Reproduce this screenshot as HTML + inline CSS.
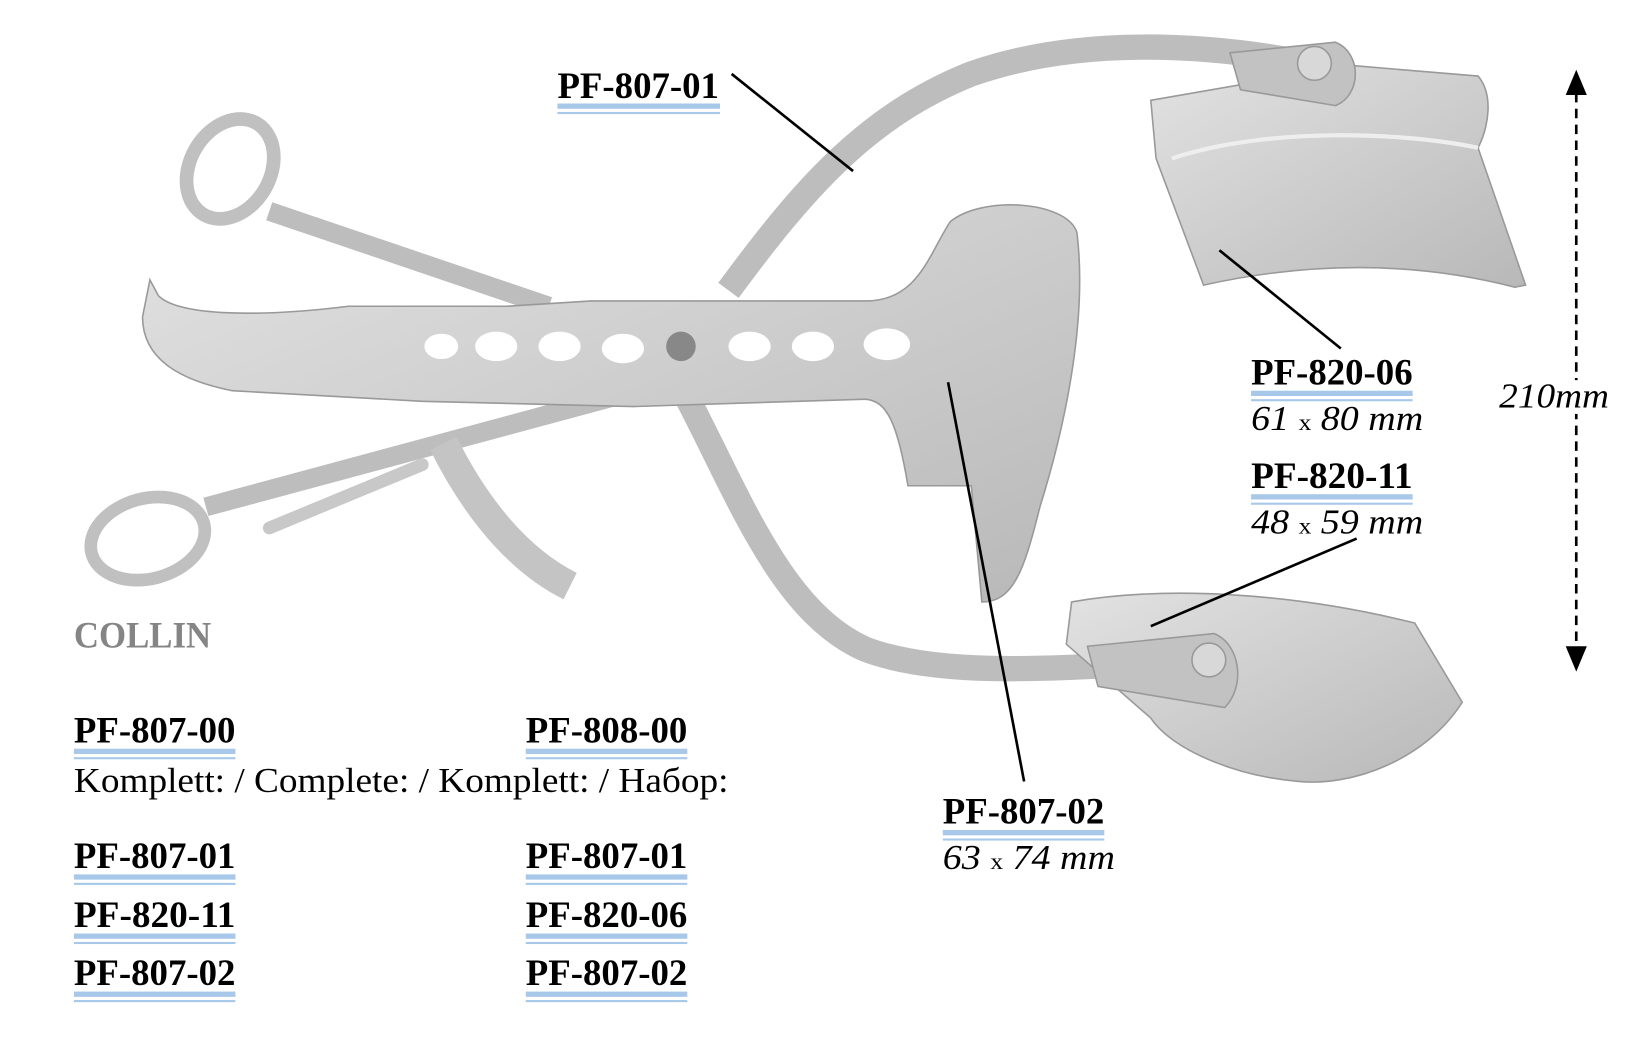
<!DOCTYPE html>
<html><head><meta charset="utf-8"><style>
html,body{margin:0;padding:0;background:#fff;width:1647px;height:1056px;overflow:hidden}
svg{display:block}
.b{font-family:"Liberation Serif",serif;font-weight:bold;font-size:35px;fill:#000}
.i{font-family:"Liberation Serif",serif;font-style:italic;font-size:33px;fill:#000}
.n{font-family:"Liberation Serif",serif;font-size:33px;fill:#000}
.u1{fill:#a8c8ea}
</style></head><body>
<svg width="1647" height="1056" viewBox="0 0 1560 1000" preserveAspectRatio="none">
<defs>
<linearGradient id="g" x1="0" y1="0" x2="1" y2="1"><stop offset="0" stop-color="#e2e2e2"/><stop offset="1" stop-color="#b8b8b8"/></linearGradient>
</defs>
<g stroke="#999" stroke-width="1.5">
<path d="M690,275 C760,180 820,110 920,70 C1020,35 1140,40 1250,62" fill="none" stroke="#bdbdbd" stroke-width="24"/>
<path d="M1090,95 L1280,62 L1400,72 C1415,90 1410,120 1400,140 L1445,270 L1435,272 C1330,245 1230,250 1140,270 L1095,150 Z" fill="url(#g)"/>
<path d="M1110,150 C1200,120 1330,125 1400,140" fill="none" stroke="#eee" stroke-width="4"/>
<path d="M1165,50 L1265,40 C1290,50 1290,90 1265,100 L1175,85 Z" fill="#c2c2c2"/>
<circle cx="1245" cy="60" r="16" fill="#d8d8d8"/>
<path d="M650,375 C700,470 740,580 820,615 C900,645 1030,630 1150,625" fill="none" stroke="#bdbdbd" stroke-width="24"/>
<path d="M1015,570 C1100,555 1220,560 1340,590 L1385,665 C1350,720 1280,745 1230,740 C1170,735 1110,710 1090,680 L1010,610 Z" fill="url(#g)"/>
<path d="M1030,612 L1150,600 C1175,610 1180,650 1160,670 L1040,650 Z" fill="#c2c2c2"/>
<circle cx="1145" cy="625" r="16" fill="#d8d8d8"/>
<ellipse cx="218" cy="160" rx="38" ry="50" transform="rotate(30 218 160)" fill="none" stroke="#c0c0c0" stroke-width="13"/>
<path d="M255,200 L520,290" stroke="#bdbdbd" stroke-width="18" fill="none"/>
<ellipse cx="140" cy="510" rx="55" ry="38" transform="rotate(-15 140 510)" fill="none" stroke="#c0c0c0" stroke-width="12"/>
<path d="M195,480 L640,360" stroke="#bdbdbd" stroke-width="18" fill="none"/>
<path d="M255,500 L400,440" stroke="#c8c8c8" stroke-width="12" stroke-linecap="round" fill="none"/>
<path d="M420,420 C450,480 490,530 540,555" stroke="#c4c4c4" stroke-width="28" fill="none"/>
<path d="M142,265 L150,280 C170,300 250,300 330,290 L480,290 L560,285 L820,285 C870,285 880,240 900,210 C930,185 1010,190 1020,220 C1030,300 1010,400 985,480 C970,540 960,570 930,570 L920,460 L860,460 C850,400 840,380 820,378 L600,385 L400,380 L220,370 C170,360 135,340 135,300 Z" fill="url(#g)"/>
<g fill="#fff" stroke="none">
<ellipse cx="418" cy="328" rx="16" ry="12"/><ellipse cx="470" cy="328" rx="20" ry="14"/><ellipse cx="530" cy="328" rx="20" ry="14"/><ellipse cx="590" cy="330" rx="20" ry="14"/><ellipse cx="645" cy="328" rx="14" ry="14" fill="#888"/><ellipse cx="710" cy="328" rx="20" ry="14"/><ellipse cx="770" cy="328" rx="20" ry="14"/><ellipse cx="840" cy="326" rx="22" ry="15"/>
</g>
</g>
<g stroke="#000" stroke-width="2.5">
<line x1="693" y1="70" x2="808" y2="162"/>
<line x1="1155" y1="237" x2="1270" y2="330"/>
<line x1="1285" y1="510" x2="1090" y2="593"/>
<line x1="898" y1="362" x2="970" y2="740"/>
<line x1="1493" y1="88" x2="1493" y2="615" stroke-dasharray="9,6"/>
</g>
<polygon points="1493,66 1483,90 1503,90" fill="#000"/>
<polygon points="1493,636 1483,612 1503,612" fill="#000"/>
<rect x="1415" y="360" width="110" height="32" fill="#fff"/>
<text class="i" x="1420" y="386" textLength="104" lengthAdjust="spacingAndGlyphs">210mm</text>
<text class="b" x="528" y="93" textLength="153" lengthAdjust="spacingAndGlyphs">PF-807-01</text>
<rect class="u1" x="528" y="98" width="154" height="5"/><rect class="u1" x="528" y="106" width="154" height="2"/>
<text class="b" x="1185" y="364" textLength="153" lengthAdjust="spacingAndGlyphs">PF-820-06</text>
<rect class="u1" x="1185" y="370" width="153" height="5"/><rect class="u1" x="1185" y="378" width="153" height="2"/>
<text class="i" x="1185" y="407" textLength="163" lengthAdjust="spacingAndGlyphs">61 <tspan style="font-style:normal;font-size:22px">x</tspan> 80 mm</text>
<text class="b" x="1185" y="462" textLength="153" lengthAdjust="spacingAndGlyphs">PF-820-11</text>
<rect class="u1" x="1185" y="468" width="153" height="5"/><rect class="u1" x="1185" y="476" width="153" height="2"/>
<text class="i" x="1185" y="505" textLength="163" lengthAdjust="spacingAndGlyphs">48 <tspan style="font-style:normal;font-size:22px">x</tspan> 59 mm</text>
<text class="b" x="893" y="780" textLength="153" lengthAdjust="spacingAndGlyphs">PF-807-02</text>
<rect class="u1" x="893" y="786" width="153" height="5"/><rect class="u1" x="893" y="794" width="153" height="2"/>
<text class="i" x="893" y="823" textLength="163" lengthAdjust="spacingAndGlyphs">63 <tspan style="font-style:normal;font-size:22px">x</tspan> 74 mm</text>
<text class="b" x="70" y="613" style="fill:#858585" textLength="130" lengthAdjust="spacingAndGlyphs">COLLIN</text>
<g>
<text class="b" x="70" y="703" textLength="153" lengthAdjust="spacingAndGlyphs">PF-807-00</text>
<rect class="u1" x="70" y="709" width="153" height="5"/><rect class="u1" x="70" y="717" width="153" height="2"/>
<text class="b" x="498" y="703" textLength="153" lengthAdjust="spacingAndGlyphs">PF-808-00</text>
<rect class="u1" x="498" y="709" width="153" height="5"/><rect class="u1" x="498" y="717" width="153" height="2"/>
<text class="n" x="70" y="750" textLength="620" lengthAdjust="spacingAndGlyphs">Komplett: / Complete: / Komplett: / Набор:</text>
<text class="b" x="70" y="822" textLength="153" lengthAdjust="spacingAndGlyphs">PF-807-01</text>
<rect class="u1" x="70" y="828" width="153" height="5"/><rect class="u1" x="70" y="836" width="153" height="2"/>
<text class="b" x="498" y="822" textLength="153" lengthAdjust="spacingAndGlyphs">PF-807-01</text>
<rect class="u1" x="498" y="828" width="153" height="5"/><rect class="u1" x="498" y="836" width="153" height="2"/>
<text class="b" x="70" y="878" textLength="153" lengthAdjust="spacingAndGlyphs">PF-820-11</text>
<rect class="u1" x="70" y="884" width="153" height="5"/><rect class="u1" x="70" y="892" width="153" height="2"/>
<text class="b" x="498" y="878" textLength="153" lengthAdjust="spacingAndGlyphs">PF-820-06</text>
<rect class="u1" x="498" y="884" width="153" height="5"/><rect class="u1" x="498" y="892" width="153" height="2"/>
<text class="b" x="70" y="933" textLength="153" lengthAdjust="spacingAndGlyphs">PF-807-02</text>
<rect class="u1" x="70" y="939" width="153" height="5"/><rect class="u1" x="70" y="947" width="153" height="2"/>
<text class="b" x="498" y="933" textLength="153" lengthAdjust="spacingAndGlyphs">PF-807-02</text>
<rect class="u1" x="498" y="939" width="153" height="5"/><rect class="u1" x="498" y="947" width="153" height="2"/>
</g>
</svg>
</body></html>
